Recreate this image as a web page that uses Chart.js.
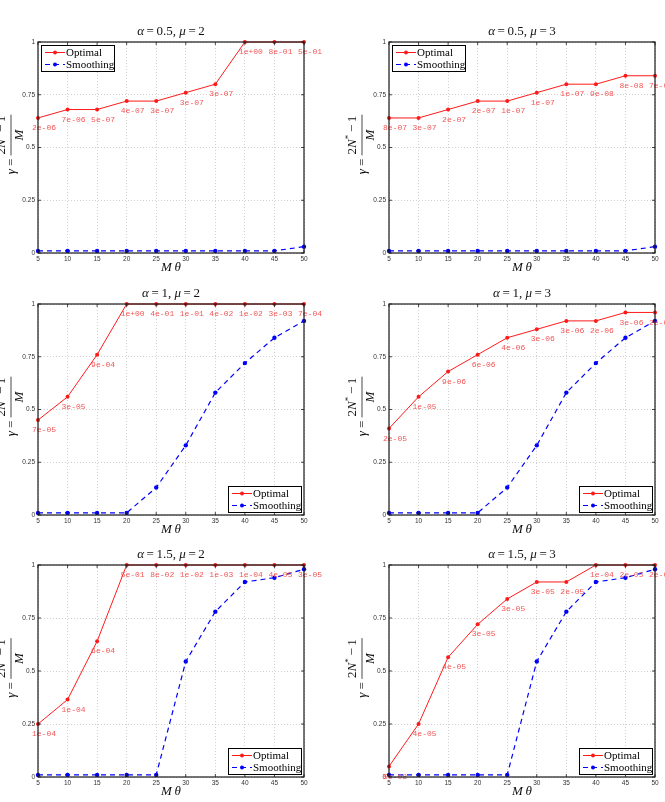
<!DOCTYPE html>
<html>
<head>
<meta charset="utf-8">
<script src="https://cdn.jsdelivr.net/npm/chart.js@4/dist/chart.umd.min.js"></script>
<style>
    body { margin: 0; background: #fff; }
    #page { position: relative; width: 665px; height: 802px; overflow: hidden; }
    canvas { position: absolute; }
</style>
</head>
<body>
<div id="page">
    <canvas id="c1"></canvas>
    <canvas id="c2"></canvas>
    <canvas id="c3"></canvas>
    <canvas id="c4"></canvas>
    <canvas id="c5"></canvas>
    <canvas id="c6"></canvas>
</div>
<script>
// x values shared by every panel
const mTheta = [5, 10, 15, 20, 25, 30, 35, 40, 45, 50];
const yTicks = [0, 0.25, 0.5, 0.75, 1];
const seriesNames = ['Optimal', 'Smoothing'];

// alpha = 0.5, mu = 2
const optimalA05Mu2 = [0.64, 0.68, 0.68, 0.72, 0.72, 0.76, 0.80, 1, 1, 1];
const smoothingA05Mu2 = [0.01, 0.01, 0.01, 0.01, 0.01, 0.01, 0.01, 0.01, 0.01, 0.03];
const notesA05Mu2 = ['2e-06', '7e-06', '5e-07', '4e-07', '3e-07', '3e-07', '3e-07', '1e+00', '8e-01', '5e-01'];

// alpha = 0.5, mu = 3
const optimalA05Mu3 = [0.64, 0.64, 0.68, 0.72, 0.72, 0.76, 0.80, 0.80, 0.84, 0.84];
const smoothingA05Mu3 = [0.01, 0.01, 0.01, 0.01, 0.01, 0.01, 0.01, 0.01, 0.01, 0.03];
const notesA05Mu3 = ['8e-07', '3e-07', '2e-07', '2e-07', '1e-07', '1e-07', '1e-07', '9e-08', '8e-08', '7e-08'];

// alpha = 1, mu = 2
const optimalA1Mu2 = [0.45, 0.56, 0.76, 1, 1, 1, 1, 1, 1, 1];
const smoothingA1Mu2 = [0.01, 0.01, 0.01, 0.01, 0.13, 0.33, 0.58, 0.72, 0.84, 0.92];
const notesA1Mu2 = ['7e-05', '3e-05', '9e-04', '1e+00', '4e-01', '1e-01', '4e-02', '1e-02', '3e-03', '7e-04'];

// alpha = 1, mu = 3
const optimalA1Mu3 = [0.41, 0.56, 0.68, 0.76, 0.84, 0.88, 0.92, 0.92, 0.96, 0.96];
const smoothingA1Mu3 = [0.01, 0.01, 0.01, 0.01, 0.13, 0.33, 0.58, 0.72, 0.84, 0.92];
const notesA1Mu3 = ['2e-05', '1e-05', '9e-06', '6e-06', '4e-06', '3e-06', '3e-06', '2e-06', '3e-06', '2e-06'];

// alpha = 1.5, mu = 2
const optimalA15Mu2 = [0.25, 0.365, 0.64, 1, 1, 1, 1, 1, 1, 1];
const smoothingA15Mu2 = [0.01, 0.01, 0.01, 0.01, 0.01, 0.545, 0.78, 0.92, 0.94, 0.98];
const notesA15Mu2 = ['1e-04', '1e-04', '6e-04', '5e-01', '8e-02', '1e-02', '1e-03', '1e-04', '4e-05', '3e-05'];

// alpha = 1.5, mu = 3
const optimalA15Mu3 = [0.05, 0.25, 0.565, 0.72, 0.84, 0.92, 0.92, 1, 1, 1];
const smoothingA15Mu3 = [0.01, 0.01, 0.01, 0.01, 0.01, 0.545, 0.78, 0.92, 0.94, 0.98];
const notesA15Mu3 = ['5e-08', '4e-05', '4e-05', '3e-05', '3e-05', '3e-05', '2e-05', '1e-04', '2e-05', '2e-05'];

const panels = [
    { id: 'c1', alpha: '0.5', mu: '2', optimal: optimalA05Mu2, smoothing: smoothingA05Mu2, notes: notesA05Mu2, legend: 'tl', col: 0, row: 0 },
    { id: 'c2', alpha: '0.5', mu: '3', optimal: optimalA05Mu3, smoothing: smoothingA05Mu3, notes: notesA05Mu3, legend: 'tl', col: 1, row: 0 },
    { id: 'c3', alpha: '1', mu: '2', optimal: optimalA1Mu2, smoothing: smoothingA1Mu2, notes: notesA1Mu2, legend: 'br', col: 0, row: 1 },
    { id: 'c4', alpha: '1', mu: '3', optimal: optimalA1Mu3, smoothing: smoothingA1Mu3, notes: notesA1Mu3, legend: 'br', col: 1, row: 1 },
    { id: 'c5', alpha: '1.5', mu: '2', optimal: optimalA15Mu2, smoothing: smoothingA15Mu2, notes: notesA15Mu2, legend: 'br', col: 0, row: 2 },
    { id: 'c6', alpha: '1.5', mu: '3', optimal: optimalA15Mu3, smoothing: smoothingA15Mu3, notes: notesA15Mu3, legend: 'br', col: 1, row: 2 },
];

// page geometry
const colLeft = [0, 332], colWidth = [332, 333];
const plotLeft = [38, 389], plotRight = [304, 655];
const rowTop = [0, 278, 540], rowHeight = [278, 262, 262];
const plotTop = [42, 304, 565], plotBottom = [253, 515, 777];
const Y_AXIS_W = 30, X_AXIS_H = 20;

const SERIF = '"Liberation Serif", "Times New Roman", serif';
const TICK_FONT = { family: '"Liberation Sans", Arial, sans-serif', size: 6.5 };

function fontFor(p, size) {
    return (p.it ? 'italic ' : '') + (p.size || size) + 'px ' + SERIF;
}

function runWidth(ctx, parts, size) {
    let w = 0;
    parts.forEach(p => { ctx.font = fontFor(p, size); w += ctx.measureText(p.t).width; });
    return w;
}

function drawRun(ctx, parts, x, y, size) {
    let cx = x;
    parts.forEach(p => {
        ctx.font = fontFor(p, size);
        ctx.fillText(p.t, cx, y + (p.dy || 0));
        cx += ctx.measureText(p.t).width;
    });
}

const decorPlugin = {
    id: 'decor',
    afterDatasetsDraw(chart) {
        const ctx = chart.ctx;
        const xs = chart.scales.x, ys = chart.scales.y;
        const spec = chart.options.plugins.decor;
        // pink value notes next to the optimal points
        ctx.save();
        ctx.fillStyle = '#f25757';
        ctx.font = '8px "Liberation Mono", "DejaVu Sans Mono", monospace';
        ctx.textAlign = 'center';
        ctx.textBaseline = 'middle';
        spec.notes.forEach((t, i) => {
            const px = xs.getPixelForValue(mTheta[i]);
            const py = ys.getPixelForValue(spec.optimal[i]);
            ctx.fillText(t, px + 6, py + 10);
        });
        ctx.restore();
    },
    afterDraw(chart) {
        const ctx = chart.ctx;
        const a = chart.chartArea;
        const xs = chart.scales.x, ys = chart.scales.y;
        const spec = chart.options.plugins.decor;
        ctx.save();

        // box frame with inward ticks
        ctx.strokeStyle = '#1a1a1a';
        ctx.lineWidth = 1.2;
        ctx.strokeRect(a.left, a.top, a.right - a.left, a.bottom - a.top);
        ctx.lineWidth = 0.8;
        ctx.beginPath();
        mTheta.forEach(v => {
            const px = xs.getPixelForValue(v);
            ctx.moveTo(px, a.bottom); ctx.lineTo(px, a.bottom - 3);
            ctx.moveTo(px, a.top); ctx.lineTo(px, a.top + 3);
        });
        yTicks.forEach(v => {
            const py = ys.getPixelForValue(v);
            ctx.moveTo(a.left, py); ctx.lineTo(a.left + 3, py);
            ctx.moveTo(a.right, py); ctx.lineTo(a.right - 3, py);
        });
        ctx.stroke();

        ctx.fillStyle = '#111';
        ctx.textBaseline = 'middle';

        // title
        const titleParts = [
            { t: '\u03b1', it: true }, { t: '\u2009=\u2009' }, { t: spec.alpha + ', ' },
            { t: '\u03bc', it: true }, { t: '\u2009=\u2009' }, { t: spec.mu }
        ];
        const tw = runWidth(ctx, titleParts, 13);
        drawRun(ctx, titleParts, (a.left + a.right) / 2 - tw / 2, a.top - 10, 13);

        // x axis title
        const xParts = [{ t: 'M', it: true }, { t: '\u2009' }, { t: '\u03b8', it: true }];
        const xw = runWidth(ctx, xParts, 13);
        drawRun(ctx, xParts, (a.left + a.right) / 2 - xw / 2, a.bottom + 15, 13);

        // y axis title: gamma = (2N* - 1) / M, rotated
        ctx.translate(a.left - 27, (a.top + a.bottom) / 2 - 3);
        ctx.rotate(-Math.PI / 2);
        const gParts = [{ t: '\u03b3', it: true }, { t: ' = ' }];
        const nParts = [{ t: '2' }, { t: 'N', it: true }, { t: '*', size: 9, dy: -4 }, { t: '\u2009\u2212\u20091' }];
        const dParts = [{ t: 'M', it: true }];
        const wG = runWidth(ctx, gParts, 13);
        const wN = runWidth(ctx, nParts, 13);
        const wD = runWidth(ctx, dParts, 13);
        const wF = Math.max(wN, wD) + 2;
        const x0 = -(wG + wF) / 2;
        drawRun(ctx, gParts, x0, 1, 13);
        const fx = x0 + wG;
        ctx.lineWidth = 0.8;
        ctx.beginPath();
        ctx.moveTo(fx, 0); ctx.lineTo(fx + wF, 0);
        ctx.stroke();
        drawRun(ctx, nParts, fx + (wF - wN) / 2, -9, 13);
        drawRun(ctx, dParts, fx + (wF - wD) / 2, 9, 13);
        ctx.restore();

        // legend box
        ctx.save();
        const lw = 73, lh = 26;
        const lx = spec.legend === 'tl' ? a.left + 3 : a.right - 3 - lw;
        const ly = spec.legend === 'tl' ? a.top + 3 : a.bottom - 3 - lh;
        ctx.fillStyle = '#fff';
        ctx.fillRect(lx, ly, lw, lh);
        ctx.strokeStyle = '#000';
        ctx.lineWidth = 1;
        ctx.strokeRect(lx + 0.5, ly + 0.5, lw, lh);
        chart.data.datasets.forEach((ds, i) => {
            const y = ly + 7.5 + i * 12;
            ctx.strokeStyle = ds.borderColor;
            ctx.lineWidth = 1;
            ctx.setLineDash(ds.borderDash || []);
            ctx.beginPath();
            ctx.moveTo(lx + 4, y); ctx.lineTo(lx + 24, y);
            ctx.stroke();
            ctx.setLineDash([]);
            ctx.fillStyle = ds.backgroundColor;
            ctx.beginPath();
            ctx.arc(lx + 14, y, 2, 0, Math.PI * 2);
            ctx.fill();
            ctx.fillStyle = '#000';
            ctx.font = '11px ' + SERIF;
            ctx.textBaseline = 'middle';
            ctx.fillText(ds.label, lx + 25, y + 0.5);
        });
        ctx.restore();
    }
};

function makeChart(p) {
    const el = document.getElementById(p.id);
    const w = colWidth[p.col], h = rowHeight[p.row];
    el.width = w;
    el.height = h;
    el.style.left = colLeft[p.col] + 'px';
    el.style.top = rowTop[p.row] + 'px';

    const top = plotTop[p.row] - rowTop[p.row];
    const bottom = plotBottom[p.row] - rowTop[p.row];
    const left = plotLeft[p.col] - colLeft[p.col];
    const right = plotRight[p.col] - colLeft[p.col];

    return new Chart(el, {
        type: 'line',
        data: {
            datasets: [
                {
                    label: seriesNames[0],
                    data: mTheta.map((x, i) => ({ x: x, y: p.optimal[i] })),
                    borderColor: '#ff1a1a',
                    backgroundColor: '#ff1a1a',
                    borderWidth: 1,
                    pointRadius: 2,
                    pointBorderWidth: 0,
                    clip: false,
                },
                {
                    label: seriesNames[1],
                    data: mTheta.map((x, i) => ({ x: x, y: p.smoothing[i] })),
                    borderColor: '#0000ff',
                    backgroundColor: '#0000ff',
                    borderWidth: 1.2,
                    borderDash: [5, 4],
                    pointRadius: 2.2,
                    pointBorderWidth: 0,
                    clip: false,
                },
            ]
        },
        options: {
            responsive: false,
            animation: false,
            events: [],
            devicePixelRatio: 1,
            layout: {
                padding: { top: top, left: left - Y_AXIS_W, right: w - right, bottom: h - bottom - X_AXIS_H }
            },
            plugins: {
                legend: { display: false },
                tooltip: { enabled: false },
                title: { display: false },
                decor: p,
            },
            scales: {
                x: {
                    type: 'linear',
                    min: 5,
                    max: 50,
                    afterFit: (s) => { s.height = X_AXIS_H; },
                    afterBuildTicks: (s) => { s.ticks = mTheta.map(v => ({ value: v })); },
                    ticks: { font: TICK_FONT, color: '#333', padding: 2, maxRotation: 0, autoSkip: false },
                    grid: { color: '#c4c4c4', lineWidth: 0.8, drawTicks: false },
                    border: { display: false, dash: [1, 2] },
                },
                y: {
                    min: 0,
                    max: 1,
                    afterFit: (s) => { s.width = Y_AXIS_W; },
                    afterBuildTicks: (s) => { s.ticks = yTicks.map(v => ({ value: v })); },
                    ticks: { font: TICK_FONT, color: '#333', padding: 3, callback: (v) => String(v) },
                    grid: { color: '#c4c4c4', lineWidth: 0.8, drawTicks: false },
                    border: { display: false, dash: [1, 2] },
                }
            }
        },
        plugins: [decorPlugin]
    });
}

panels.forEach(makeChart);
</script>
</body>
</html>
